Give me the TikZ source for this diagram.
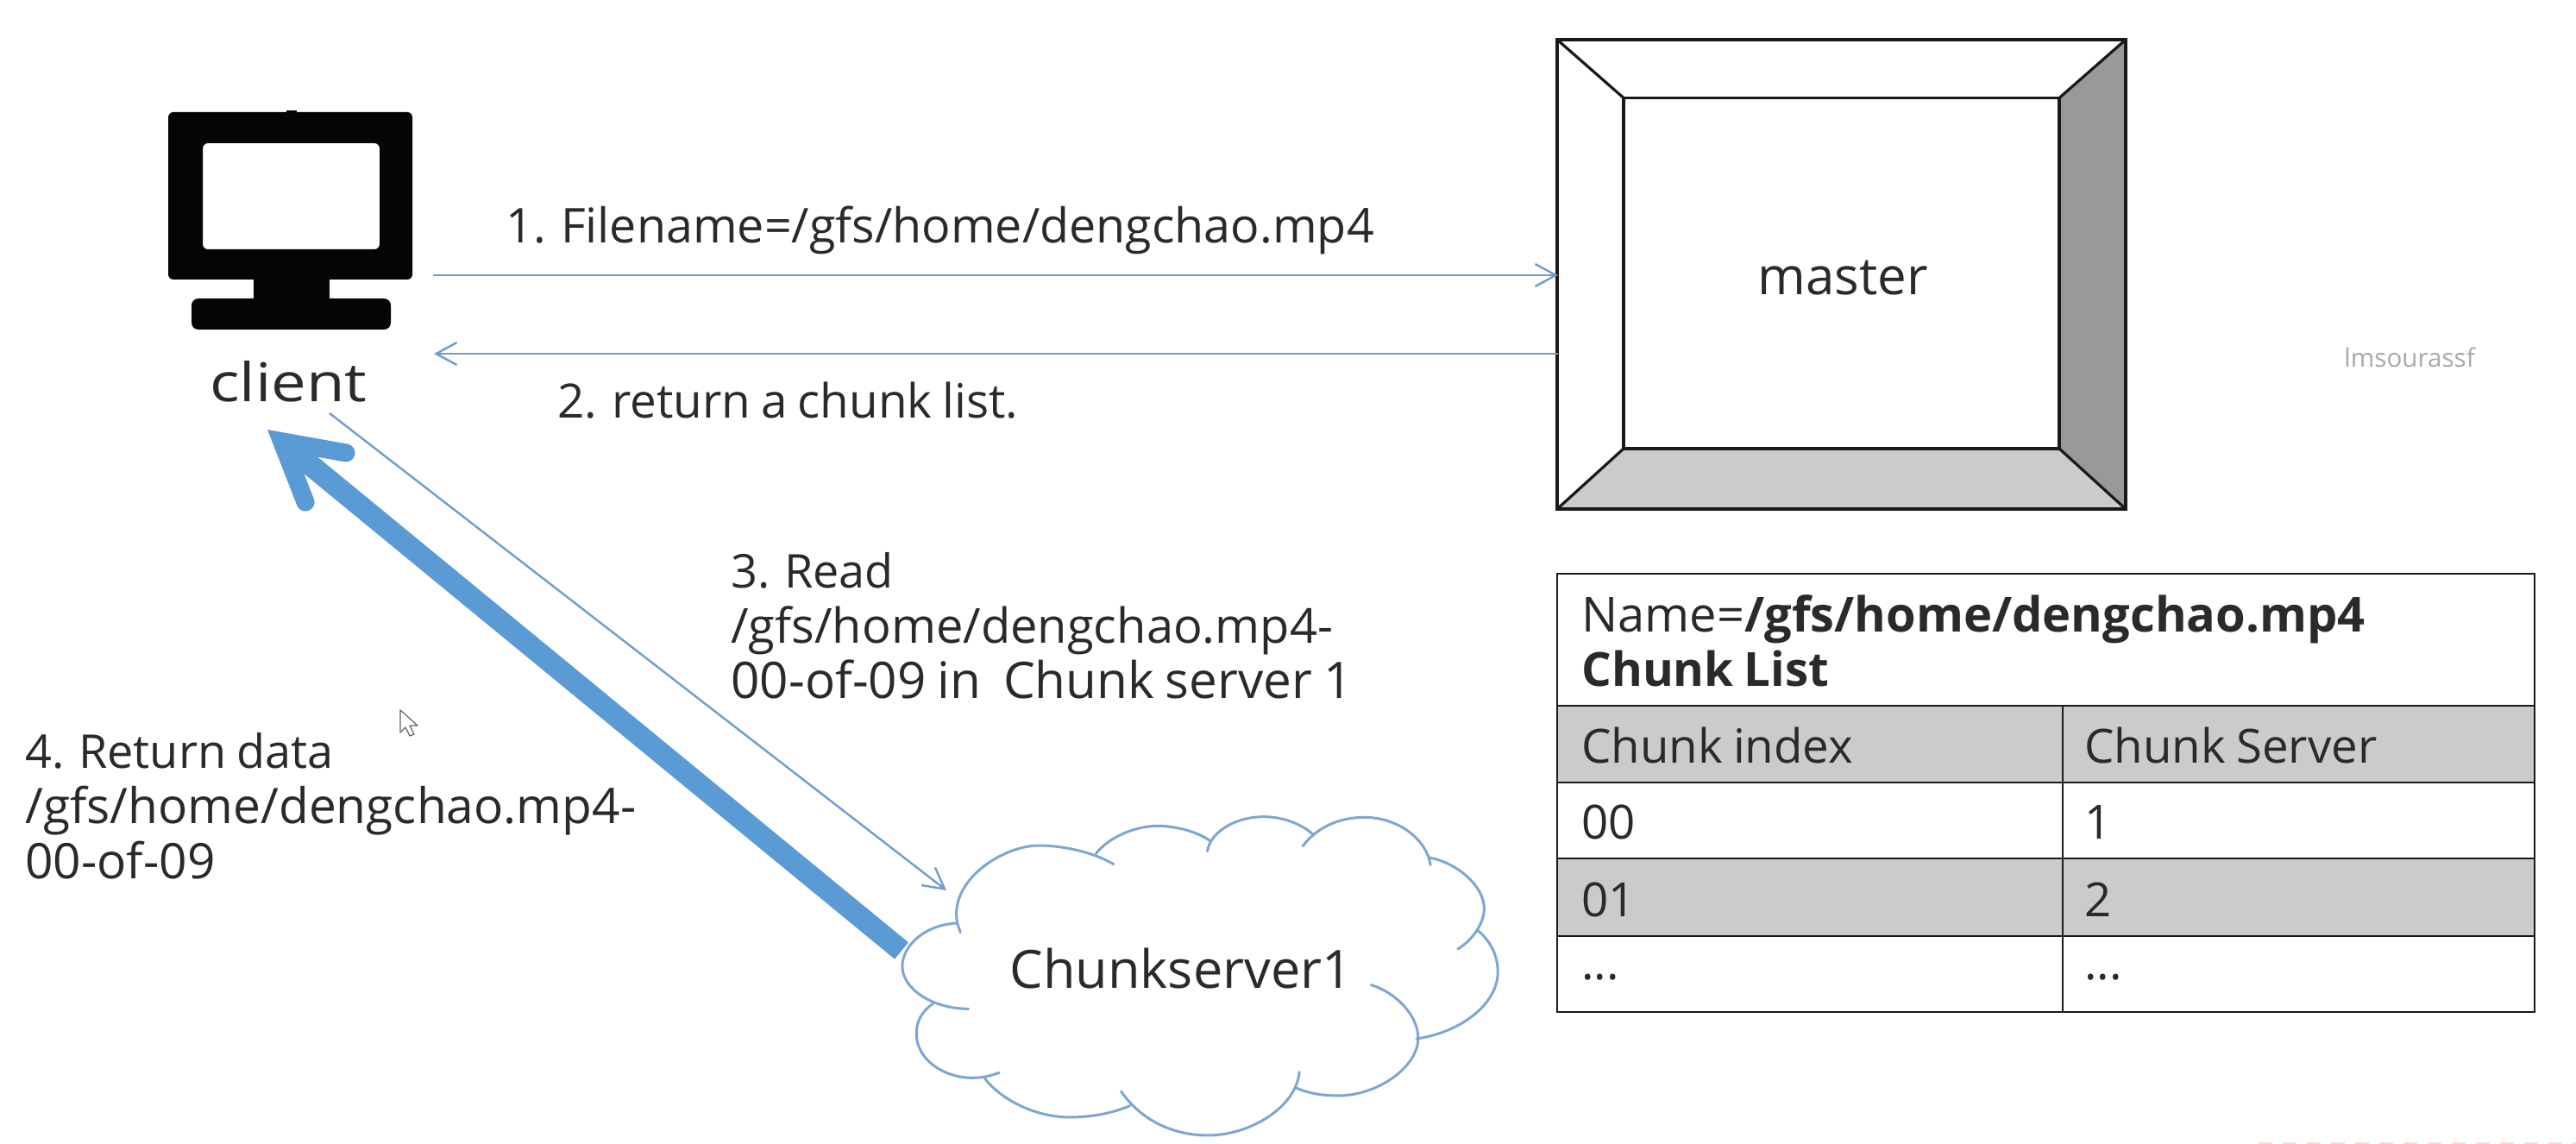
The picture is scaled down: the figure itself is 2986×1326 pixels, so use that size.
\documentclass[tikz,border=0pt]{standalone}
\usepackage{fontspec}
\setmainfont[WordSpace=0.85]{Open Sans}
\usetikzlibrary{arrows.meta}
\definecolor{arrowblue}{HTML}{5B9BD5}
\definecolor{thinblue}{HTML}{6F9DD0}
\definecolor{cloudblue}{HTML}{7FA6D2}
\definecolor{ink}{HTML}{2A2A2A}
\definecolor{greyA}{HTML}{CBCBCB}
\definecolor{greyB}{HTML}{999999}
\definecolor{wm}{HTML}{A9A9A9}
\definecolor{pinkmark}{HTML}{F9DADF}
\newcommand{\lineA}{\fontsize{27}{32}\selectfont}
\newcommand{\lineB}{\fontsize{28}{32}\selectfont}
\newcommand{\lineC}{\fontsize{29.2}{32}\selectfont}
\tikzset{
  label/.style={anchor=base west,inner sep=0pt,text=ink,font=\fontsize{28.4}{32}\selectfont,align=left},
  tlabel/.style={anchor=base west,inner sep=0pt,text=ink,font=\fontsize{27.3}{32}\selectfont},
  thinarrow/.style={draw=thinblue,line width=1.2pt,-{Straight Barb[length=12pt,width=13pt]}},
  thickarrow/.style={draw=arrowblue,line width=12.5pt,-{Straight Barb[length=33pt,width=37pt,line width=10.5pt,line cap=round,line join=miter]}},
  frameline/.style={draw=black!90,line width=1.6pt,line join=miter},
  tableline/.style={draw=black!90,line width=1.4pt},
  cloudline/.style={draw=cloudblue,line width=1.5pt,line cap=round}
}
\begin{document}
\begin{tikzpicture}[x=0.5pt,y=-0.5pt]
\useasboundingbox (0,0) rectangle (2986,1326);
\fill[white] (0,0) rectangle (2986,1326);
\draw[pinkmark,line width=1.5pt,dash pattern=on 8pt off 6pt] (2618,1325.5) -- (2986,1325.5);

% client monitor
\fill[black!98,even odd rule,rounded corners=3pt]
  (195,130) rectangle (478,324) (235,166) rectangle (440,289);
\fill[black!98] (294,320) rectangle (382,350);
\fill[black!98,rounded corners=4pt] (222,346) rectangle (453,382);
\fill[black!98] (332,130) rectangle (344,128.5);
\node[anchor=base west,inner sep=0pt,text=ink,font=\fontsize{31}{32}\selectfont] (client) at (243,466) {\scalebox{1.17}[1]{client}};

% master
\node[frameline,minimum width=329.5pt,minimum height=272pt,inner sep=0pt] (masterframe) at (2134.5,318) {};
\fill[greyB] (2387,113.5) -- (2464,46) -- (2464,590) -- (2387,520) -- cycle;
\fill[greyA] (1882,520) -- (2387,520) -- (2464,590) -- (1805,590) -- cycle;
\draw[frameline] (1805,46) rectangle (2464,590);
\draw[frameline] (1882,113.5) rectangle (2387,520);
\draw[frameline] (1805,46) -- (1882,113.5) (2464,46) -- (2387,113.5) (1805,590) -- (1882,520) (2464,590) -- (2387,520);
\node[anchor=base west,inner sep=0pt,text=ink,font=\fontsize{30}{32}\selectfont] (master) at (2037,342) {master};
\node[anchor=base west,inner sep=0pt,text=wm,font=\fontsize{14.8}{16}\selectfont] (mark) at (2717,425) {lmsourassf};

% connector ends
\coordinate (c1) at (502,319);
\coordinate (m1) at (1806,319);
\coordinate (m2) at (1806,410);
\coordinate (c2) at (503,410);
\coordinate (c3) at (382,479);
\coordinate (s3) at (1097,1032);
\coordinate (s4) at (1045,1102);
\coordinate (c4) at (310,498);

\draw[thinarrow] (c1) -- (m1);
\draw[thinarrow] (m2) -- (c2);
\draw[thinarrow] (c3) -- (s3);
\draw[thickarrow] (s4) -- (c4);

% labels
\node[label,font=\fontsize{27.8}{32}\selectfont] (l1) at (586,282) {1. Filename=/gfs/home/dengchao.mp4};
\node[label,font=\fontsize{27.4}{32}\selectfont] (l2) at (646,484) {2. return a chunk list.};
\node[label] (l3) at (847,809) {{\lineA 3. Read}\\{\lineB /gfs/home/dengchao.mp4-}\\{\lineC 00-of-09 in\ \ Chunk server 1}};
\node[label] (l4) at (29,1018) {{\lineA 4. Return data}\\/gfs/home/dengchao.mp4-\\00-of-09};

% mouse pointer
\draw[draw=black!60,fill=white,line width=0.6pt,line join=round]
  (464,823) -- (464,849) -- (470,843) -- (475,853) -- (480,851) -- (475,841) -- (484,841) -- cycle;

% cloud
\begin{scope}[shift={(1000,920)},xscale=0.5102,yscale=0.3333]
\draw[cloudline]
 (215,450) .. controls (195,300) and (320,180) .. (400,180) .. controls (450,180) and (520,200) .. (570,245)
 (530,208) .. controls (560,150) and (620,112) .. (670,112) .. controls (720,112) and (770,140) .. (790,165)
 (783,200) .. controls (790,130) and (850,80) .. (910,80) .. controls (960,80) and (1000,110) .. (1022,140)
 (1000,182) .. controls (1030,120) and (1080,82) .. (1140,82) .. controls (1210,82) and (1280,150) .. (1290,248)
 (1287,222) .. controls (1350,240) and (1412,320) .. (1412,400) .. controls (1412,450) and (1385,510) .. (1352,540)
 (1397,475) .. controls (1425,510) and (1443,560) .. (1443,620) .. controls (1443,730) and (1360,830) .. (1258,852)
 (1155,665) .. controls (1210,690) and (1262,770) .. (1262,850) .. controls (1262,950) and (1170,1050) .. (1080,1050) .. controls (1040,1050) and (1010,1040) .. (983,1022)
 (992,968) .. controls (985,1090) and (880,1188) .. (785,1188) .. controls (700,1188) and (630,1130) .. (587,1035)
 (607,1085) .. controls (570,1110) and (520,1125) .. (470,1125) .. controls (390,1125) and (310,1060) .. (275,985)
 (310,970) .. controls (290,982) and (270,988) .. (250,988) .. controls (180,988) and (122,920) .. (122,835) .. controls (122,790) and (135,755) .. (160,730)
 (240,748) .. controls (160,748) and (90,680) .. (90,600) .. controls (90,530) and (140,455) .. (215,450) -- (222,482);
\end{scope}
\node[anchor=base west,inner sep=0pt,text=ink,font=\fontsize{30.6}{32}\selectfont] (chunkserver) at (1170,1145) {Chunkserver1};

% table
\fill[greyA] (1805,818) rectangle (2938,907);
\fill[greyA] (1805,995) rectangle (2938,1085);
\draw[tableline] (1805,665) rectangle (2938,1173);
\draw[tableline] (1805,818) -- (2938,818) (1805,907) -- (2938,907) (1805,995) -- (2938,995) (1805,1085) -- (2938,1085);
\draw[tableline] (2391,818) -- (2391,1173);
\node[tlabel,font=\fontsize{28}{32}\selectfont] (t1) at (1833,732) {Name=\textbf{/gfs/home/dengchao.mp4}};
\node[tlabel] (t2) at (1833,795) {\textbf{Chunk List}};
\node[tlabel] (h1) at (1833,884) {Chunk index};
\node[tlabel] (h2) at (2416,884) {Chunk Server};
\node[tlabel] (r1a) at (1833,972) {00};
\node[tlabel] (r1b) at (2416,972) {1};
\node[tlabel] (r2a) at (1833,1062) {01};
\node[tlabel] (r2b) at (2416,1062) {2};
\node[tlabel] (r3a) at (1833,1135) {...};
\node[tlabel] (r3b) at (2416,1135) {...};
\end{tikzpicture}
\end{document}
